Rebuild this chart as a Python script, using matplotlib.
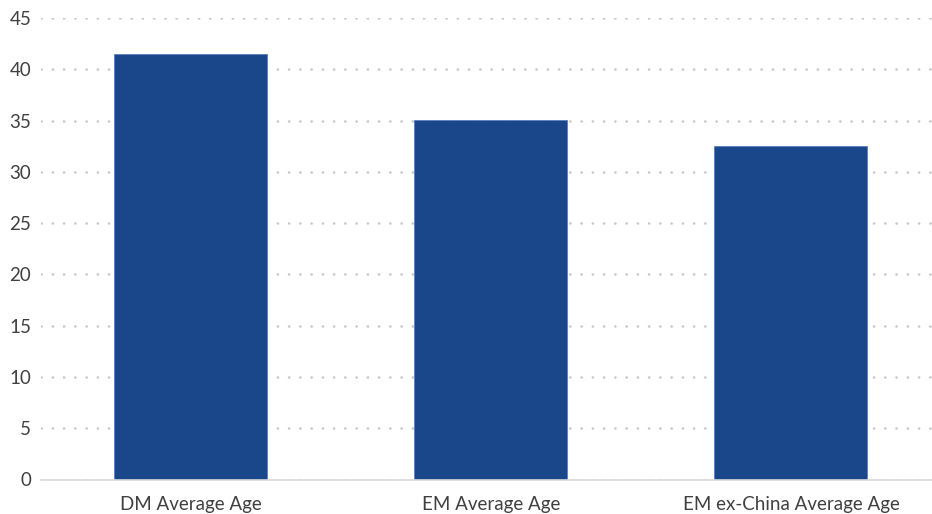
import matplotlib.pyplot as plt

# Average age by market group
categories = ["DM Average Age", "EM Average Age", "EM ex-China Average Age"]
avg_age = [41.5, 35.1, 32.5]
y_ticks = [0, 5, 10, 15, 20, 25, 30, 35, 40, 45]

bar_color = "#19478a"
text_color = "#404040"
grid_color = "#c6c6c6"

plt.rcParams['font.family'] = ['Lato', 'DejaVu Sans']

fig = plt.figure(figsize=(9.32, 5.14), dpi=100)
ax = fig.add_axes([41 / 932, 34.5 / 514, 891 / 932, 461.5 / 514])

x = list(range(len(categories)))
ax.bar(x, avg_age, width=0.51, color=bar_color, edgecolor="#5a7fbf",
       linewidth=0.6, zorder=3)

ax.set_xlim(-0.5, -0.5 + 891 / 300)
ax.set_ylim(0, 45)
ax.set_yticks(y_ticks)
ax.set_xticks(x)
ax.set_xticklabels(categories)

# dotted horizontal grid, solid baseline
ax.yaxis.grid(True, color=grid_color, linewidth=1.8,
              linestyle=(0, (0.1, 4.4)), dash_capstyle="round", zorder=0)
ax.set_axisbelow(True)
for s in ["top", "right", "left"]:
    ax.spines[s].set_visible(False)
ax.spines["bottom"].set_color("#d9d9d9")
ax.spines["bottom"].set_linewidth(1.2)
ax.spines["bottom"].set_zorder(4)

ax.tick_params(axis="both", length=0, colors=text_color, labelsize=13.5)
ax.tick_params(axis="y", pad=7)
ax.tick_params(axis="x", pad=12)

fig.savefig("out.png", dpi=100)
